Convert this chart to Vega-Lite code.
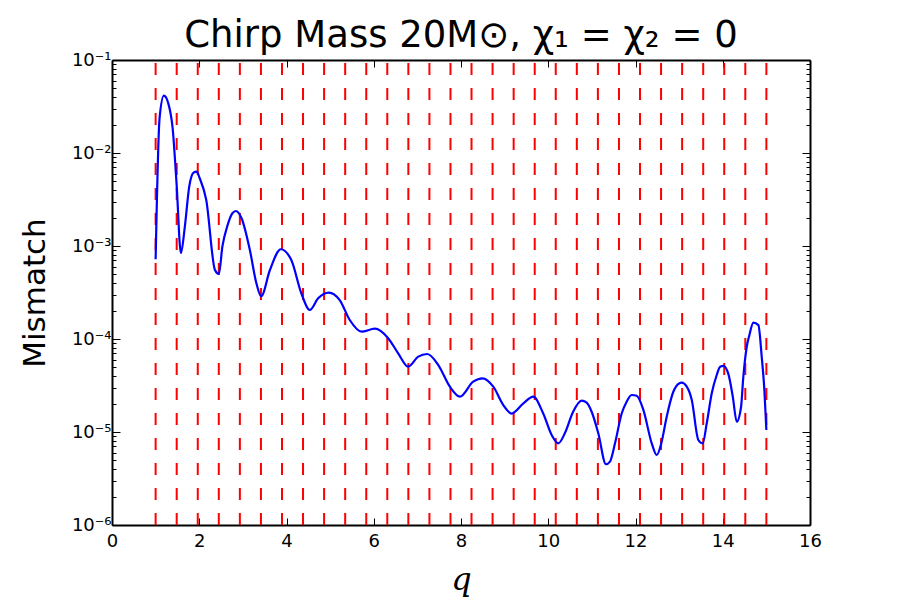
{
  "$schema": "https://vega.github.io/schema/vega-lite/v6.json",
  "width": 698,
  "height": 465,
  "autosize": {"type": "none"},
  "padding": {"left": 112, "top": 60, "right": 90, "bottom": 75},
  "background": "white",
  "title": {
    "text": "Chirp Mass 20M⊙, χ₁ = χ₂ = 0",
    "font": "DejaVu Sans",
    "fontSize": 37,
    "fontWeight": "normal",
    "color": "black",
    "anchor": "middle",
    "offset": -4
  },
  "datasets": {
    "bank": [
      {"q": 1.0}, {"q": 1.483}, {"q": 1.966}, {"q": 2.448}, {"q": 2.931},
      {"q": 3.414}, {"q": 3.897}, {"q": 4.379}, {"q": 4.862}, {"q": 5.345},
      {"q": 5.828}, {"q": 6.31}, {"q": 6.793}, {"q": 7.276}, {"q": 7.759},
      {"q": 8.241}, {"q": 8.724}, {"q": 9.207}, {"q": 9.69}, {"q": 10.172},
      {"q": 10.655}, {"q": 11.138}, {"q": 11.621}, {"q": 12.103}, {"q": 12.586},
      {"q": 13.069}, {"q": 13.552}, {"q": 14.034}, {"q": 14.517}, {"q": 15.0}
    ],
    "mismatch": [
      {"q": 1.0, "m": 0.000719},
      {"q": 1.09, "m": 0.0236},
      {"q": 1.19, "m": 0.0413},
      {"q": 1.29, "m": 0.0342},
      {"q": 1.39, "m": 0.01845},
      {"q": 1.48, "m": 0.00468},
      {"q": 1.58, "m": 0.000836},
      {"q": 1.67, "m": 0.00162},
      {"q": 1.77, "m": 0.00435},
      {"q": 1.87, "m": 0.00614},
      {"q": 1.94, "m": 0.0063},
      {"q": 2.01, "m": 0.00535},
      {"q": 2.16, "m": 0.00313},
      {"q": 2.36, "m": 0.000552},
      {"q": 2.45, "m": 0.0005},
      {"q": 2.53, "m": 0.000984},
      {"q": 2.64, "m": 0.00162},
      {"q": 2.76, "m": 0.00225},
      {"q": 2.84, "m": 0.00238},
      {"q": 2.97, "m": 0.00199},
      {"q": 3.16, "m": 0.000906},
      {"q": 3.31, "m": 0.000397},
      {"q": 3.42, "m": 0.000288},
      {"q": 3.62, "m": 0.000552},
      {"q": 3.87, "m": 0.000923},
      {"q": 4.11, "m": 0.000706},
      {"q": 4.34, "m": 0.00031},
      {"q": 4.535, "m": 0.000205},
      {"q": 4.725, "m": 0.000274},
      {"q": 4.97, "m": 0.000316},
      {"q": 5.22, "m": 0.000262},
      {"q": 5.45, "m": 0.00016},
      {"q": 5.72, "m": 0.00012},
      {"q": 6.025, "m": 0.000129},
      {"q": 6.33, "m": 0.000102},
      {"q": 6.56, "m": 0.0000701},
      {"q": 6.79, "m": 0.0000504},
      {"q": 7.02, "m": 0.0000646},
      {"q": 7.225, "m": 0.000069},
      {"q": 7.48, "m": 0.0000525},
      {"q": 7.745, "m": 0.0000307},
      {"q": 7.975, "m": 0.000024},
      {"q": 8.28, "m": 0.0000348},
      {"q": 8.495, "m": 0.0000378},
      {"q": 8.74, "m": 0.0000307},
      {"q": 8.97, "m": 0.0000195},
      {"q": 9.16, "m": 0.0000158},
      {"q": 9.43, "m": 0.0000203},
      {"q": 9.656, "m": 0.000024},
      {"q": 9.885, "m": 0.0000158},
      {"q": 10.078, "m": 0.00000929},
      {"q": 10.23, "m": 0.00000755},
      {"q": 10.38, "m": 0.00000968},
      {"q": 10.57, "m": 0.0000165},
      {"q": 10.766, "m": 0.0000217},
      {"q": 10.88, "m": 0.0000207},
      {"q": 10.995, "m": 0.0000165},
      {"q": 11.147, "m": 0.00000968},
      {"q": 11.323, "m": 0.0000045},
      {"q": 11.415, "m": 0.0000048},
      {"q": 11.53, "m": 0.00000755},
      {"q": 11.683, "m": 0.0000158},
      {"q": 11.797, "m": 0.0000212},
      {"q": 11.913, "m": 0.000025},
      {"q": 12.027, "m": 0.0000245},
      {"q": 12.18, "m": 0.0000173},
      {"q": 12.372, "m": 0.00000755},
      {"q": 12.487, "m": 0.00000566},
      {"q": 12.6, "m": 0.00000787},
      {"q": 12.715, "m": 0.0000146},
      {"q": 12.867, "m": 0.0000271},
      {"q": 12.998, "m": 0.0000333},
      {"q": 13.06, "m": 0.0000339},
      {"q": 13.175, "m": 0.0000307},
      {"q": 13.29, "m": 0.0000221},
      {"q": 13.44, "m": 0.0000082},
      {"q": 13.54, "m": 0.00000755},
      {"q": 13.633, "m": 0.0000124},
      {"q": 13.748, "m": 0.0000261},
      {"q": 13.862, "m": 0.000041},
      {"q": 13.94, "m": 0.0000504},
      {"q": 14.013, "m": 0.0000513},
      {"q": 14.128, "m": 0.0000421},
      {"q": 14.23, "m": 0.000024},
      {"q": 14.32, "m": 0.0000129},
      {"q": 14.42, "m": 0.0000187},
      {"q": 14.472, "m": 0.0000394},
      {"q": 14.55, "m": 0.0000826},
      {"q": 14.61, "m": 0.00011},
      {"q": 14.702, "m": 0.00015},
      {"q": 14.817, "m": 0.000141},
      {"q": 14.893, "m": 0.0000646},
      {"q": 14.954, "m": 0.0000283},
      {"q": 15.0, "m": 0.0000105}
    ]
  },
  "layer": [
    {
      "data": {"name": "bank"},
      "mark": {"type": "rule", "color": "#ff0000", "strokeWidth": 2, "strokeDash": [12, 13]},
      "encoding": {
        "x": {
          "field": "q",
          "type": "quantitative",
          "scale": {"domain": [0, 16], "nice": false, "zero": false},
          "axis": {
            "orient": "bottom",
            "values": [0, 2, 4, 6, 8, 10, 12, 14, 16],
            "format": "d",
            "title": "q",
            "titleFont": "DejaVu Serif",
            "titleFontStyle": "italic",
            "titleFontWeight": "normal",
            "titleFontSize": 32,
            "titleColor": "black",
            "titlePadding": 14,
            "labelFont": "DejaVu Sans",
            "labelFontSize": 18,
            "labelColor": "black",
            "labelPadding": 14,
            "labelFlush": false,
            "tickSize": -7,
            "tickColor": "black",
            "tickWidth": 1,
            "domainColor": "black",
            "domainWidth": 2,
            "grid": false
          }
        },
        "y": {
          "datum": 0.000001,
          "type": "quantitative",
          "scale": {"type": "log", "domain": [0.000001, 0.1], "nice": false},
          "axis": {
            "orient": "left",
            "values": [0.000001, 0.000002, 0.000003, 0.000004, 0.000005, 0.000006, 0.000007, 0.000008, 0.000009,
                       0.00001, 0.00002, 0.00003, 0.00004, 0.00005, 0.00006, 0.00007, 0.00008, 0.00009,
                       0.0001, 0.0002, 0.0003, 0.0004, 0.0005, 0.0006, 0.0007, 0.0008, 0.0009,
                       0.001, 0.002, 0.003, 0.004, 0.005, 0.006, 0.007, 0.008, 0.009,
                       0.01, 0.02, 0.03, 0.04, 0.05, 0.06, 0.07, 0.08, 0.09, 0.1],
            "labelExpr": "abs(log(datum.value)/LN10 - round(log(datum.value)/LN10)) < 0.000001 ? '10⁻' + ['⁰','¹','²','³','⁴','⁵','⁶'][-round(log(datum.value)/LN10)] : ''",
            "tickSize": {"condition": {"test": "abs(log(datum.value)/LN10 - round(log(datum.value)/LN10)) < 0.000001", "value": -8}, "value": -4},
            "title": "Mismatch",
            "titleFont": "DejaVu Sans",
            "titleFontWeight": "normal",
            "titleFontSize": 31,
            "titleColor": "black",
            "titlePadding": 20,
            "labelFont": "DejaVu Sans",
            "labelFontSize": 18,
            "labelColor": "black",
            "labelPadding": 9,
            "labelFlush": false,
            "labelOverlap": false,
            "tickColor": "black",
            "tickWidth": 1,
            "domainColor": "black",
            "domainWidth": 2,
            "grid": false
          }
        },
        "y2": {"datum": 0.1}
      }
    },
    {
      "data": {"name": "mismatch"},
      "mark": {"type": "line", "color": "#0000ff", "strokeWidth": 2.2, "interpolate": "monotone", "clip": true},
      "encoding": {
        "x": {
          "field": "q",
          "type": "quantitative",
          "scale": {"domain": [0, 16], "nice": false, "zero": false},
          "axis": {
            "orient": "top",
            "values": [0, 2, 4, 6, 8, 10, 12, 14, 16],
            "labels": false,
            "title": null,
            "tickSize": -7,
            "tickColor": "black",
            "tickWidth": 1,
            "domainColor": "black",
            "domainWidth": 2,
            "grid": false
          }
        },
        "y": {
          "field": "m",
          "type": "quantitative",
          "scale": {"type": "log", "domain": [0.000001, 0.1], "nice": false},
          "axis": {
            "orient": "right",
            "values": [0.000001, 0.000002, 0.000003, 0.000004, 0.000005, 0.000006, 0.000007, 0.000008, 0.000009,
                       0.00001, 0.00002, 0.00003, 0.00004, 0.00005, 0.00006, 0.00007, 0.00008, 0.00009,
                       0.0001, 0.0002, 0.0003, 0.0004, 0.0005, 0.0006, 0.0007, 0.0008, 0.0009,
                       0.001, 0.002, 0.003, 0.004, 0.005, 0.006, 0.007, 0.008, 0.009,
                       0.01, 0.02, 0.03, 0.04, 0.05, 0.06, 0.07, 0.08, 0.09, 0.1],
            "labels": false,
            "title": null,
            "tickSize": {"condition": {"test": "abs(log(datum.value)/LN10 - round(log(datum.value)/LN10)) < 0.000001", "value": -8}, "value": -4},
            "tickColor": "black",
            "tickWidth": 1,
            "domainColor": "black",
            "domainWidth": 2,
            "grid": false
          }
        }
      }
    }
  ],
  "resolve": {"axis": {"x": "independent", "y": "independent"}},
  "config": {
    "view": {"stroke": null},
    "axis": {"labelFont": "DejaVu Sans"}
  }
}
